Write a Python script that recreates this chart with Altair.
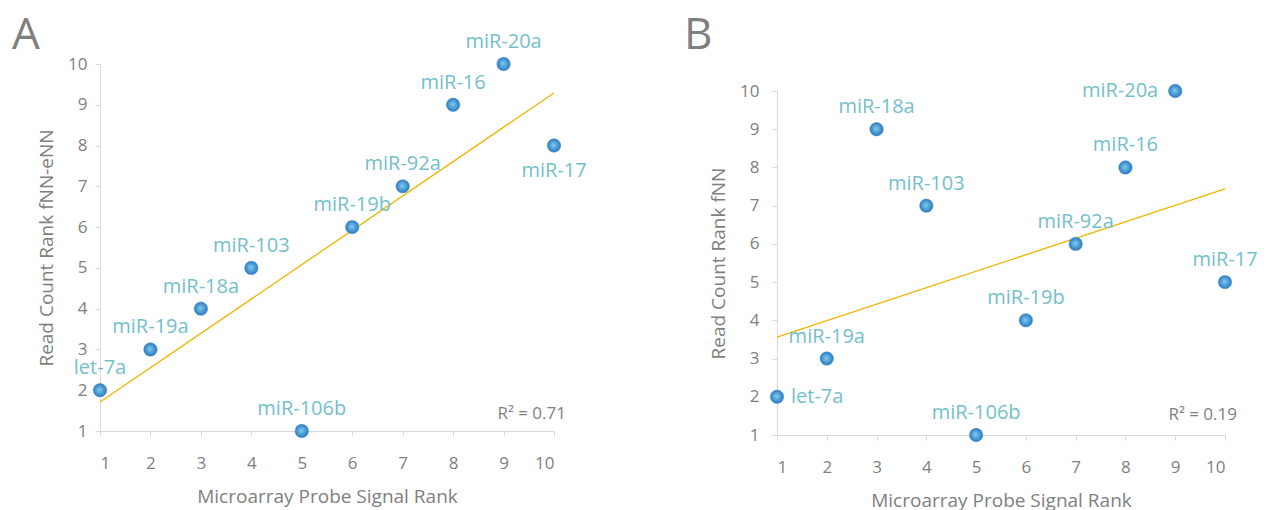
import altair as alt
import pandas as pd

names = ["let-7a", "miR-19a", "miR-18a", "miR-103", "miR-106b",
         "miR-19b", "miR-92a", "miR-16", "miR-20a", "miR-17"]
probe_rank = [1, 2, 3, 4, 5, 6, 7, 8, 9, 10]
rank_a = [2, 3, 4, 5, 1, 6, 7, 9, 10, 8]
rank_b = [2, 3, 9, 7, 1, 4, 6, 8, 10, 5]
pos_a = ["above", "above", "above", "above", "above",
         "above", "above", "above", "above", "below"]
pos_b = ["right", "above", "above", "above", "above",
         "above", "above", "above", "left", "above"]
r2_a = "R\u00b2 = 0.71"
r2_b = "R\u00b2 = 0.19"
ticks = list(range(1, 11))

FONT = "Open Sans"
GREY = "#7f7f7f"
TEAL = "#74bfcb"
GOLD = "#f0b400"
AXIS = "#d9d9d9"

grad = alt.RadialGradient(
    gradient="radial", x1=0.45, y1=0.45, r1=0, x2=0.5, y2=0.5, r2=0.5,
    stops=[alt.GradientStop(offset=0, color="#7fcdee"),
           alt.GradientStop(offset=1, color="#2c7ac2")])


def panel(rank, pos, r2, letter, ytitle, w, h, top, letter_x, letter_y,
          r2_dy, lab_pad):
    df = pd.DataFrame({"name": names, "x": probe_rank, "y": rank, "pos": pos})
    xs = alt.X("x:Q", scale=alt.Scale(domain=[1, 10], nice=False, zero=False),
               axis=alt.Axis(values=ticks, title="Microarray Probe Signal Rank",
                             grid=False, tickSize=5, labelPadding=19,
                             titlePadding=16))
    ys = alt.Y("y:Q", scale=alt.Scale(domain=[1, 10], nice=False, zero=False,
                                      range=[h, top]),
               axis=alt.Axis(values=ticks, title=ytitle, grid=False,
                             tickSize=5, labelPadding=lab_pad, titlePadding=11))
    base = alt.Chart(df).encode(x=xs, y=ys)
    line = base.transform_regression("x", "y", extent=[1, 10]).mark_line(
        color=GOLD, strokeWidth=1.3)
    pts = base.mark_circle(size=180, opacity=1, fill=grad, stroke="#3a86c8",
                           strokeWidth=0.5)
    lab_font = dict(font=FONT, fontSize=20, color=TEAL)
    above = base.transform_filter(alt.datum.pos == "above").mark_text(
        dy=-22, **lab_font).encode(text="name:N")
    below = base.transform_filter(alt.datum.pos == "below").mark_text(
        dy=25, **lab_font).encode(text="name:N")
    right = base.transform_filter(alt.datum.pos == "right").mark_text(
        dx=14, align="left", **lab_font).encode(text="name:N")
    left = base.transform_filter(alt.datum.pos == "left").mark_text(
        dx=-17, align="right", **lab_font).encode(text="name:N")
    r2t = alt.Chart(pd.DataFrame({"t": [r2]})).mark_text(
        font=FONT, fontSize=17, color=GREY, align="right", baseline="middle",
        dy=r2_dy).encode(x=alt.value(w + 12), y=alt.value(h), text="t:N")
    let = alt.Chart(pd.DataFrame({"t": [letter]})).mark_text(
        font=FONT, fontSize=44, color=GREY, align="left",
        baseline="alphabetic").encode(x=alt.value(letter_x),
                                      y=alt.value(letter_y), text="t:N")
    return alt.layer(line, pts, above, below, right, left, r2t, let).properties(
        width=w, height=h)


a = panel(rank_a, pos_a, r2_a, "A", "Read Count Rank fNN-eNN", 454, 367, 0,
          -88, -15, -17, 8)
b = panel(rank_b, pos_b, r2_b, "B", "Read Count Rank fNN", 448, 371, 27,
          -93, -15, -20, 13)

chart = alt.hconcat(a, b, spacing=97).configure_view(stroke=None).configure_axis(
    domainColor=AXIS, tickColor=AXIS, labelColor=GREY, titleColor=GREY,
    labelFont=FONT, titleFont=FONT, labelFontSize=17, titleFontSize=19,
    titleFontWeight="normal"
).properties(background="white",
             padding={"left": 4, "top": 6, "right": 0, "bottom": 0})

chart.save("out.html", embed_options={"renderer": "svg", "actions": False})
